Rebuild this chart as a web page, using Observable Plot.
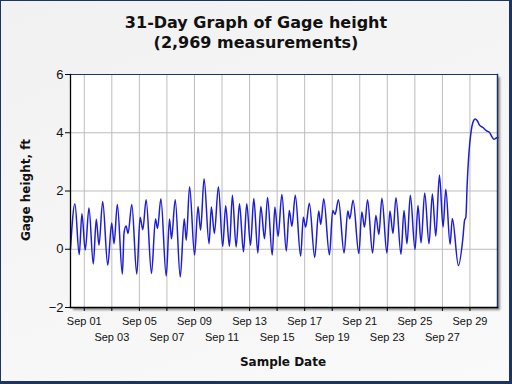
<!DOCTYPE html>
<html><head><meta charset="utf-8">
<script src="https://cdn.jsdelivr.net/npm/d3@7"></script>
<script src="https://cdn.jsdelivr.net/npm/@observablehq/plot@0.6"></script>
<style>
html,body{margin:0;padding:0;background:#fff;}
#wrap{position:relative;width:512px;height:384px;overflow:hidden;background:linear-gradient(160deg,#f1f1f1,#fafafa);font-family:"DejaVu Sans",Verdana,sans-serif;}
#border{position:absolute;left:0;top:0;width:512px;height:384px;box-sizing:border-box;border:1px solid #1c3461;border-right-width:3px;border-bottom-width:3px;pointer-events:none;}
#title{position:absolute;left:0;top:13px;width:512px;text-align:center;font-weight:bold;font-size:16px;line-height:20px;color:#111;}
#shadow{position:absolute;left:73px;top:77px;width:427px;height:233px;background:#8a8a8a;filter:blur(1px);}
#chart{position:absolute;left:0;top:0;}
#ylab{position:absolute;left:26px;top:190px;transform:translate(-50%,-50%) rotate(-90deg);white-space:nowrap;font-weight:bold;font-size:12px;color:#111;}
#xlab{position:absolute;left:283px;top:362px;transform:translate(-50%,-50%);white-space:nowrap;font-weight:bold;font-size:12px;color:#111;}
</style></head>
<body>
<div id="wrap">
  <div id="title">31-Day Graph of Gage height<br>(2,969 measurements)</div>
  <div id="shadow"></div>
  <div id="chart"></div>
  <div id="ylab">Gage height, ft</div>
  <div id="xlab">Sample Date</div>
  <div id="border"></div>
</div>
<script>
// hours since Aug 31 00:00 (at turning points)
const hoursSinceStart = [0,7.7,15.2,19.9,25.7,32.2,39.7,44.9,49.6,56.1,64.9,71.8,75.9,81.6,90.4,93.3,96.8,100.3,106.8,115.5,121.3,126.0,131.8,141.1,148.1,151.6,157.5,166.8,172.5,176.0,182.5,191.2,198.2,201.7,207.5,216.2,222.2,226.7,232.7,241.4,245.4,250.7,257.7,265.2,270.4,276.9,282.1,288.6,294.4,301.4,307.1,313.6,319.4,326.4,331.6,338.1,343.3,351.5,356.1,361.7,368.3,376.0,381.2,385.8,391.7,401.0,405.7,409.7,416.2,425.5,432.5,436.0,441.2,451.2,456.9,460.9,466.9,476.7,483.2,486.6,492.4,502.4,507.6,512.3,517.6,526.3,532.1,537.3,542.6,551.3,556.6,561.8,567.1,575.8,581.1,586.3,592.1,600.3,605.5,610.8,617.2,624.7,630.5,636.5,642.8,649.2,653.9,661.4,665.3,675.9,683.6,686.7,688.9,691.2,694.1,698.2,701.1,705.2,708.7,712.7,718.6,724.4,730.2,734.4,737.8,741.8,744.8];
const gageHeight = [0.02,1.56,-0.18,1.22,-0.03,1.42,-0.51,1.03,0.14,1.64,-0.55,0.9,0.19,1.54,-0.85,0.56,0.8,0.54,1.54,-0.85,1.1,0.67,1.7,-0.83,1.04,0.71,1.73,-0.92,1.04,0.36,1.7,-0.95,1.05,0.31,2.15,-0.2,1.47,0.65,2.42,0.19,1.45,0.54,2.15,0.1,1.49,0.1,1.85,0.08,1.56,-0.09,1.56,0.14,1.74,-0.13,1.47,0.36,1.78,-0.2,1.45,0.44,1.88,-0.06,1.33,0.79,1.85,-0.24,1.1,0.76,1.58,-0.28,1.31,0.85,1.73,-0.19,1.33,1.2,1.7,-0.13,1.31,1.05,1.68,-0.15,1.28,0.76,1.7,-0.13,1.16,0.51,1.75,-0.13,1.31,0.54,1.77,-0.17,1.33,0.19,1.85,-0.01,1.5,0.22,1.93,0.19,1.9,0.45,2.55,0.76,2.06,0.17,1.06,-0.56,0.36,1.0,1.1,2.25,3.27,4.07,4.35,4.47,4.41,4.26,4.18,4.07,4.01,3.86,3.78,3.82,3.84];
const tickDays = [1,3,5,7,9,11,13,15,17,19,21,23,25,27,29];
const tickLabels = ["Sep 01","Sep 03","Sep 05","Sep 07","Sep 09","Sep 11","Sep 13","Sep 15","Sep 17","Sep 19","Sep 21","Sep 23","Sep 25","Sep 27","Sep 29"];
const yTicks = [-2,0,2,4,6];

const t0 = Date.UTC(2023,7,31);
const data = hoursSinceStart.map((h,i)=>({date:new Date(t0+h*3600e3), value:gageHeight[i]}));
const tickDates = tickDays.map(d=>new Date(Date.UTC(2023,8,d)));
const labelOf = new Map(tickDates.map((d,i)=>[+d, tickLabels[i]]));
const rowA = tickDates.filter((d,i)=>i%2===0);
const rowB = tickDates.filter((d,i)=>i%2===1);

const chart = Plot.plot({
  width:512, height:384,
  marginLeft:70, marginTop:74, marginRight:15, marginBottom:77,
  style:{background:"transparent", fontFamily:"'Liberation Sans', Arial, sans-serif", color:"#111"},
  x:{type:"utc", domain:[new Date(t0), new Date(Date.UTC(2023,9,1))]},
  y:{domain:[-2,6]},
  marks:[
    Plot.frame({fill:"white", stroke:null}),
    Plot.gridX(tickDates,{stroke:"#bdbdbd", strokeOpacity:1}),
    Plot.gridY(yTicks,{stroke:"#bdbdbd", strokeOpacity:1}),
    Plot.line(data,{x:"date", y:"value", stroke:"#1d1dd8", strokeWidth:1.5, curve:"monotone-x"}),
    Plot.frame({anchor:"top", stroke:"#1c3461"}),
    Plot.frame({anchor:"right", stroke:"#1c3461", strokeWidth:1.5}),
    Plot.frame({anchor:"left", stroke:"#000", strokeWidth:1.3}),
    Plot.frame({anchor:"bottom", stroke:"#000", strokeWidth:1.5}),
    Plot.axisY(yTicks,{tickSize:5, tickPadding:2, fontSize:13, label:null, stroke:"#000"}),
    Plot.axisX(rowA,{tickSize:4, tickPadding:6, fontSize:11, label:null, tickFormat:d=>labelOf.get(+d), stroke:"#000"}),
    Plot.axisX(rowB,{tickSize:4, tickPadding:22, fontSize:11, label:null, tickFormat:d=>labelOf.get(+d), stroke:"#000"})
  ]
});
document.getElementById("chart").append(chart);
</script>
</body></html>
